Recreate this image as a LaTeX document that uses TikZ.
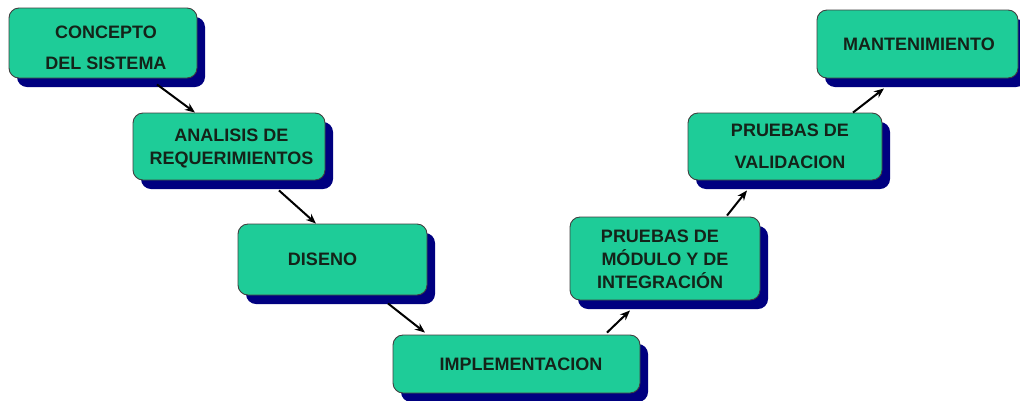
\documentclass[tikz,border=0pt]{standalone}
\usepackage{fontspec}
\setmainfont{Liberation Sans}
\usetikzlibrary{arrows.meta,shadows}
\definecolor{boxfill}{RGB}{30,204,152}
\definecolor{shadownavy}{RGB}{0,0,128}
\definecolor{txt}{RGB}{20,35,25}
\begin{document}
\begin{tikzpicture}[x=1pt,y=-1pt,
  stage/.style={draw=black!75, line width=0.9pt, fill=boxfill, rounded corners=10pt,
    inner sep=0pt, align=center, text=txt,
    font=\fontsize{18}{23}\selectfont\bfseries,
    general shadow={fill=shadownavy, shadow xshift=8pt, shadow yshift=-9pt}},
  arr/.style={draw=black, line width=2pt, -{Stealth[length=10pt,width=8pt]}}]
\useasboundingbox[fill=white] (0,0) rectangle (1020,400);
\node[stage, minimum width=188pt, minimum height=70pt] (b1) at (103,43)
  {\rule{0pt}{23pt}\hspace*{6pt}CONCEPTO\\[8pt]\hspace*{6pt}DEL SISTEMA};
\node[stage, minimum width=192pt, minimum height=67pt] (b2) at (229,146.5)
  {\rule{0pt}{17pt}\hspace*{5pt}ANALISIS DE\\\hspace*{5pt}REQUERIMIENTOS};
\node[stage, minimum width=189pt, minimum height=71pt] (b3) at (332.5,259.5)
  {DISENO\hspace*{20pt}};
\node[stage, minimum width=247pt, minimum height=58pt] (b4) at (516.5,364)
  {\hspace*{9pt}IMPLEMENTACION};
\node[stage, minimum width=190pt, minimum height=83pt] (b5) at (665,258.5)
  {\rule{0pt}{15pt}PRUEBAS DE\hspace*{10pt}\\MÓDULO Y DE\hspace*{10pt}\\INTEGRACIÓN\hspace*{10pt}};
\node[stage, minimum width=194pt, minimum height=67pt] (b6) at (785,146.5)
  {\hspace*{10pt}PRUEBAS DE\\[9pt]\hspace*{10pt}VALIDACION};
\node[stage, minimum width=201pt, minimum height=68pt] (b7) at (917.5,44)
  {\hspace*{3pt}MANTENIMIENTO};
\draw[arr] ([shift={(54,6)}]b1.south) -- ([shift={(-34,0)}]b2.north);
\draw[arr] ([shift={(50,10)}]b2.south) -- ([shift={(-16.5,0)}]b3.north);
\draw[arr] ([shift={(55.5,8)}]b3.south) -- ([shift={(-91.5,-2)}]b4.north);
\draw[arr] ([shift={(90.5,-2)}]b4.north) -- ([shift={(-35,10)}]b5.south);
\draw[arr] ([shift={(62,-1)}]b5.north) -- ([shift={(-38,10)}]b6.south);
\draw[arr] ([shift={(68,0)}]b6.north) -- ([shift={(-33.5,10)}]b7.south);
\end{tikzpicture}
\end{document}
